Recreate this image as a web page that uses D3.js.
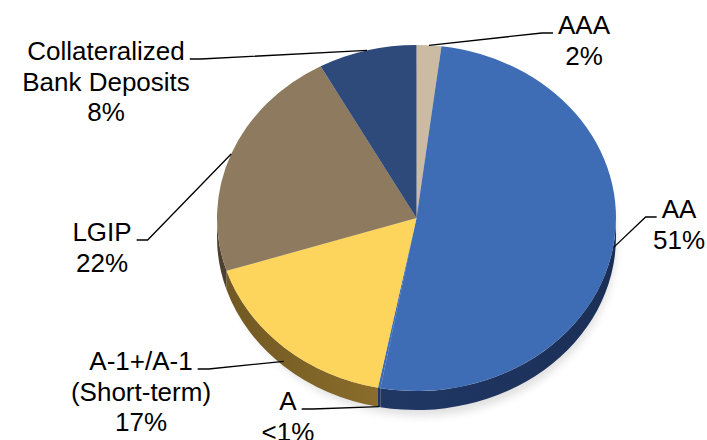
<!DOCTYPE html>
<html>
<head>
<meta charset="utf-8">
<script src="https://cdn.jsdelivr.net/npm/d3@7"></script>
<style>
  html, body { margin: 0; padding: 0; background: #ffffff; }
  svg { display: block; }
</style>
</head>
<body>
<svg id="chart" width="707" height="440"></svg>
<script>
// Portfolio credit-quality breakdown (percent of holdings)
const categories = ["AAA", "AA", "A", "A-1+/A-1 (Short-term)", "LGIP", "Collateralized Bank Deposits"];
const labelLines = [["AAA"], ["AA"], ["A"], ["A-1+/A-1", "(Short-term)"], ["LGIP"], ["Collateralized", "Bank Deposits"]];
const shares = [2, 51, 0.2, 17, 22, 8];
const topColors = ["#CBBBA2", "#3F6DB5", "#3F6DB5", "#FDD55C", "#8E7A5E", "#2D4A7B"];
const sideColors = ["#7C6E58", "#1E3460", "#1E3460", "#86692A", "#5A4C38", "#1A2C4C"];

const fmtShare = v => v < 1 ? "<1%" : d3.format(".0f")(v) + "%";

// Disc geometry (top face ellipse + visible rim thickness)
const W = 707, H = 440;
const cx = 416.5, cy = 218, rx = 199.5, ry = 173, depth = 19;

// Where each label block sits: centre x and first baseline
const labelSpots = {
  "AAA": [584, 34],
  "AA": [679, 218],
  "A": [288, 410],
  "A-1+/A-1 (Short-term)": [141, 370],
  "LGIP": [102, 241],
  "Collateralized Bank Deposits": [106, 60]
};
const lineGap = 30.5;
const fontSize = 26;

const svg = d3.select("#chart");

const color = d3.scaleOrdinal().domain(categories).range(topColors);
const rimColor = d3.scaleOrdinal().domain(categories).range(sideColors);

const data = categories.map((c, i) => ({ cat: c, lines: labelLines[i], value: shares[i] }));
const arcs = d3.pie().sort(null).value(d => d.value).startAngle(0).endAngle(2 * Math.PI)(data);

// angle measured clockwise from 12 o'clock
const px = a => cx + rx * Math.sin(a);
const py = a => cy - ry * Math.cos(a);

function topPath(a0, a1) {
  const large = (a1 - a0) > Math.PI ? 1 : 0;
  return `M${cx},${cy}L${px(a0)},${py(a0)}A${rx},${ry} 0 ${large} 1 ${px(a1)},${py(a1)}Z`;
}
function rimPath(a0, a1) {
  const b0 = Math.max(a0, Math.PI / 2), b1 = Math.min(a1, 3 * Math.PI / 2);
  if (b1 <= b0) return null;
  const large = (b1 - b0) > Math.PI ? 1 : 0;
  return `M${px(b0)},${py(b0)}A${rx},${ry} 0 ${large} 1 ${px(b1)},${py(b1)}` +
         `L${px(b1)},${py(b1) + depth}A${rx},${ry} 0 ${large} 0 ${px(b0)},${py(b0) + depth}Z`;
}

const defs = svg.append("defs");
// soft drop shadow under the disc
defs.append("filter").attr("id", "soft").attr("x", "-20%").attr("y", "-20%").attr("width", "140%").attr("height", "140%")
  .append("feGaussianBlur").attr("stdDeviation", 4);

arcs.forEach((d, i) => {
  const g = defs.append("linearGradient").attr("id", "rim" + i)
    .attr("gradientUnits", "userSpaceOnUse")
    .attr("x1", cx - rx).attr("x2", cx + rx).attr("y1", 0).attr("y2", 0);
  const base = d3.color(rimColor(d.data.cat));
  g.append("stop").attr("offset", 0).attr("stop-color", base.darker(0.5));
  g.append("stop").attr("offset", 0.45).attr("stop-color", base.brighter(0.15));
  g.append("stop").attr("offset", 1).attr("stop-color", base.darker(0.3));
});

svg.append("ellipse")
  .attr("cx", cx + 4).attr("cy", cy + depth + 6).attr("rx", rx - 4).attr("ry", ry)
  .attr("fill", "#000").attr("opacity", 0.12).attr("filter", "url(#soft)");

// rim (front half only)
svg.append("g").selectAll("path")
  .data(arcs.map((d, i) => ({ d, i, p: rimPath(d.startAngle, d.endAngle) })).filter(o => o.p))
  .join("path")
  .attr("d", o => o.p)
  .attr("fill", o => `url(#rim${o.i})`);

// top face
svg.append("g").selectAll("path")
  .data(arcs)
  .join("path")
  .attr("d", d => topPath(d.startAngle, d.endAngle))
  .attr("fill", d => color(d.data.cat));

// labels and leader lines
const labelG = svg.append("g")
  .attr("font-family", "'Liberation Sans', Arial, Helvetica, sans-serif")
  .attr("font-size", fontSize)
  .attr("fill", "#000");

arcs.forEach(d => {
  const [lx, ly] = labelSpots[d.data.cat];
  const lines = d.data.lines.concat([fmtShare(d.data.value)]);
  const t = labelG.append("text").attr("text-anchor", "middle");
  lines.forEach((s, k) => {
    t.append("tspan").attr("x", lx).attr("y", ly + k * lineGap).text(s);
  });
  const firstW = t.select("tspan").node().getComputedTextLength();

  const mid = (d.startAngle + d.endAngle) / 2;
  const ax = px(mid);
  const ay = py(mid) + depth * Math.max(0, -Math.cos(mid));
  const leftOfPie = lx < cx;
  const s0 = leftOfPie ? lx + firstW / 2 + 5 : lx - firstW / 2 - 5;
  const s1 = leftOfPie ? s0 + 11 : s0 - 11;
  const sy = ly - 1;
  svg.append("polyline")
    .attr("points", [[s0, sy], [s1, sy], [ax, ay]].map(p => p.join(",")).join(" "))
    .attr("fill", "none")
    .attr("stroke", "#000")
    .attr("stroke-width", 1.3);
});
</script>
</body>
</html>
